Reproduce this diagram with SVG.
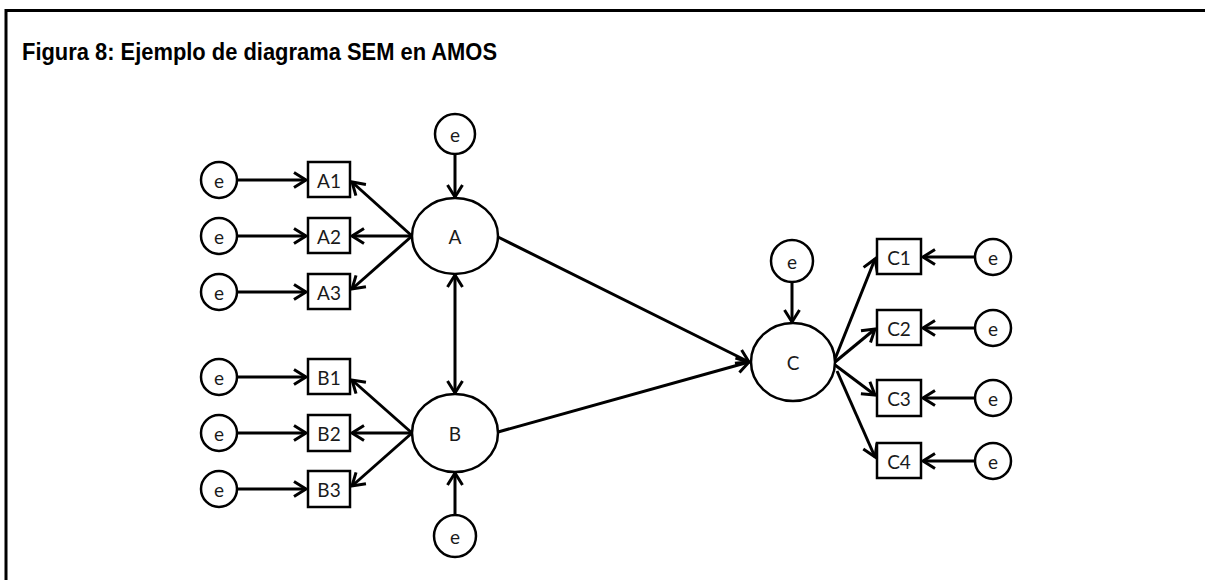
<svg xmlns="http://www.w3.org/2000/svg" width="1205" height="580" viewBox="0 0 1205 580">
  <style>
    .frame { stroke: #000; stroke-width: 3; fill: none; }
    .title { font-family: "Liberation Sans", Arial, sans-serif; font-weight: bold; font-size: 24px; fill: #000; }
    .obs { fill: #fff; stroke: #000; stroke-width: 2.5; }
    .lat { fill: #fff; stroke: #000; stroke-width: 2.5; }
    .err { fill: #fff; stroke: #000; stroke-width: 2.5; }
    .lbl { font-family: Lato, "Open Sans", sans-serif; font-size: 19px; fill: #1a1a1a; text-anchor: middle; dominant-baseline: central; }
    .edge { stroke: #000; stroke-width: 3; fill: none; }
    .one { marker-end: url(#head); }
    .two { marker-start: url(#head); marker-end: url(#head); }
  </style>
  <defs>
    <marker id="head" markerUnits="userSpaceOnUse" viewBox="-15 -10 18 20" markerWidth="18" markerHeight="20" refX="0" refY="0" orient="auto-start-reverse">
      <path d="M-12,-7.5 L0,0 L-12,7.5" fill="none" stroke="#000" stroke-width="3" stroke-linejoin="miter"/>
    </marker>
  </defs>

  <rect width="1205" height="580" fill="#fff"/>

  <!-- frame: top rule and left rule -->
  <line class="frame" x1="5" y1="10.5" x2="1205" y2="10.5"/>
  <line class="frame" x1="6" y1="9" x2="6" y2="580"/>

  <text class="title" x="22" y="60" textLength="475" lengthAdjust="spacingAndGlyphs">Figura 8: Ejemplo de diagrama SEM en AMOS</text>

  <!-- connectors -->
  <g id="connectors">
    <!-- errors into indicators of A -->
    <line class="edge one" x1="237" y1="180" x2="306" y2="180"/>
    <line class="edge one" x1="237" y1="236" x2="306" y2="236"/>
    <line class="edge one" x1="237" y1="292" x2="306" y2="292"/>
    <!-- A to its indicators -->
    <line class="edge one" x1="412" y1="236" x2="352" y2="182"/>
    <line class="edge one" x1="412" y1="236" x2="352" y2="236"/>
    <line class="edge one" x1="412" y1="236" x2="352" y2="289"/>
    <!-- errors into indicators of B -->
    <line class="edge one" x1="237" y1="377" x2="306" y2="377"/>
    <line class="edge one" x1="237" y1="433" x2="306" y2="433"/>
    <line class="edge one" x1="237" y1="489" x2="306" y2="489"/>
    <!-- B to its indicators -->
    <line class="edge one" x1="412" y1="433" x2="352" y2="380"/>
    <line class="edge one" x1="412" y1="433" x2="352" y2="433"/>
    <line class="edge one" x1="412" y1="433" x2="352" y2="486"/>
    <!-- disturbances -->
    <line class="edge one" x1="455" y1="154" x2="455" y2="197"/>
    <line class="edge one" x1="455" y1="515" x2="455" y2="473"/>
    <line class="edge one" x1="792" y1="282" x2="792" y2="322"/>
    <!-- covariance A-B -->
    <line class="edge two" x1="455" y1="275" x2="455" y2="393"/>
    <!-- structural paths -->
    <line class="edge one" x1="498" y1="237" x2="749" y2="362"/>
    <line class="edge one" x1="498" y1="432" x2="749" y2="362"/>
    <!-- C to its indicators -->
    <line class="edge one" x1="835" y1="359" x2="875" y2="259"/>
    <line class="edge one" x1="835" y1="362" x2="875" y2="329"/>
    <line class="edge one" x1="835" y1="365" x2="875" y2="395"/>
    <line class="edge one" x1="837" y1="371" x2="875" y2="457"/>
    <!-- errors into indicators of C -->
    <line class="edge one" x1="975" y1="257" x2="923" y2="257"/>
    <line class="edge one" x1="975" y1="328" x2="923" y2="328"/>
    <line class="edge one" x1="975" y1="398" x2="923" y2="398"/>
    <line class="edge one" x1="975" y1="461" x2="923" y2="461"/>
  </g>

  <!-- latent variables -->
  <g id="A"><ellipse class="lat" cx="455" cy="236" rx="43" ry="38"/><text class="lbl" x="455" y="236">A</text></g>
  <g id="B"><ellipse class="lat" cx="455" cy="433" rx="43" ry="39"/><text class="lbl" x="455" y="433">B</text></g>
  <g id="C"><ellipse class="lat" cx="793" cy="362" rx="42" ry="39"/><text class="lbl" x="793" y="362">C</text></g>

  <!-- observed indicators -->
  <g id="A1"><rect class="obs" x="308" y="162" width="42" height="35"/><text class="lbl" x="329" y="180">A1</text></g>
  <g id="A2"><rect class="obs" x="308" y="218" width="42" height="35"/><text class="lbl" x="329" y="236">A2</text></g>
  <g id="A3"><rect class="obs" x="308" y="274" width="42" height="35"/><text class="lbl" x="329" y="292">A3</text></g>
  <g id="B1"><rect class="obs" x="308" y="359" width="42" height="35"/><text class="lbl" x="329" y="377">B1</text></g>
  <g id="B2"><rect class="obs" x="308" y="415" width="42" height="36"/><text class="lbl" x="329" y="433">B2</text></g>
  <g id="B3"><rect class="obs" x="308" y="471" width="42" height="36"/><text class="lbl" x="329" y="489">B3</text></g>
  <g id="C1"><rect class="obs" x="877" y="239" width="44" height="35"/><text class="lbl" x="899" y="257">C1</text></g>
  <g id="C2"><rect class="obs" x="877" y="310" width="44" height="35"/><text class="lbl" x="899" y="328">C2</text></g>
  <g id="C3"><rect class="obs" x="877" y="380" width="44" height="36"/><text class="lbl" x="899" y="398">C3</text></g>
  <g id="C4"><rect class="obs" x="877" y="443" width="44" height="35"/><text class="lbl" x="899" y="461">C4</text></g>

  <!-- error terms -->
  <g id="eA1"><circle class="err" cx="219" cy="180" r="18"/><text class="lbl" x="219" y="180">e</text></g>
  <g id="eA2"><circle class="err" cx="219" cy="236" r="18"/><text class="lbl" x="219" y="236">e</text></g>
  <g id="eA3"><circle class="err" cx="219" cy="292" r="18"/><text class="lbl" x="219" y="292">e</text></g>
  <g id="eB1"><circle class="err" cx="219" cy="377" r="18"/><text class="lbl" x="219" y="377">e</text></g>
  <g id="eB2"><circle class="err" cx="219" cy="433" r="18"/><text class="lbl" x="219" y="433">e</text></g>
  <g id="eB3"><circle class="err" cx="219" cy="489" r="18"/><text class="lbl" x="219" y="489">e</text></g>
  <g id="eA"><circle class="err" cx="455" cy="134" r="20"/><text class="lbl" x="455" y="134">e</text></g>
  <g id="eB"><circle class="err" cx="455" cy="536" r="21"/><text class="lbl" x="455" y="536">e</text></g>
  <g id="eC"><circle class="err" cx="792" cy="261" r="21"/><text class="lbl" x="792" y="261">e</text></g>
  <g id="eC1"><circle class="err" cx="993" cy="257" r="18"/><text class="lbl" x="993" y="257">e</text></g>
  <g id="eC2"><circle class="err" cx="993" cy="328" r="18"/><text class="lbl" x="993" y="328">e</text></g>
  <g id="eC3"><circle class="err" cx="993" cy="398" r="18"/><text class="lbl" x="993" y="398">e</text></g>
  <g id="eC4"><circle class="err" cx="993" cy="461" r="18"/><text class="lbl" x="993" y="461">e</text></g>
</svg>
